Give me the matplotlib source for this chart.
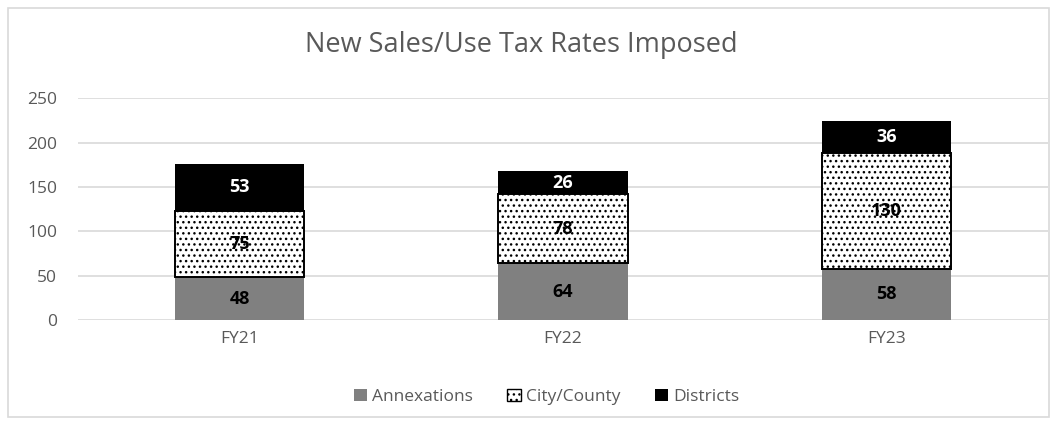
import numpy as np
import matplotlib
matplotlib.use("Agg")
import matplotlib.pyplot as plt
from matplotlib.patches import Rectangle

years = ["FY21", "FY22", "FY23"]
annexations = [48, 64, 58]
city_county = [75, 78, 130]
districts = [53, 26, 36]

GREY = "#808080"; TXT = "#595959"; GRID = "#d9d9d9"

plt.rcParams["font.family"] = ["Open Sans", "DejaVu Sans"]
plt.rcParams["hatch.linewidth"] = 1.0

fig = plt.figure(figsize=(10.57, 4.25), dpi=100)
ax = fig.add_axes([0.0738, 0.2471, 0.9177, 0.5216])

x = np.arange(len(years))
w = 0.4
a = np.array(annexations); c = np.array(city_county); d = np.array(districts)
ax.bar(x, a, w, color=GREY, label="Annexations", zorder=3)
ax.bar(x, c, w, bottom=a, facecolor="white", edgecolor="black", hatch="...",
       linewidth=1.4, label="City/County", zorder=3)
ax.bar(x, d, w, bottom=a + c, color="black", label="Districts", zorder=3)

LS = 13
for xi, v in zip(x, a):
    ax.text(xi, v / 2, str(v), ha="center", va="center", fontsize=LS,
            weight="bold", color="black", zorder=5)
for xi, v, b in zip(x, c, a):
    ax.text(xi, b + v / 2, str(v), ha="center", va="center", fontsize=LS,
            weight="bold", color="black", zorder=5)
for xi, v, b in zip(x, d, a + c):
    ax.text(xi, b + v / 2, str(v), ha="center", va="center", fontsize=LS,
            weight="bold", color="white", zorder=5)

ax.set_xlim(-0.5, 2.5)
ax.set_ylim(0, 250)
ax.set_yticks(range(0, 251, 50))
ax.yaxis.grid(True, color=GRID, linewidth=1.2, zorder=0)
ax.set_axisbelow(True)
for s in ax.spines.values():
    s.set_visible(False)
ax.tick_params(axis="both", length=0, labelsize=12.5, colors=TXT, pad=8)
ax.tick_params(axis="y", pad=15)
ax.set_xticks(x)
ax.set_xticklabels(years)

fig.text(0.493, 0.895, "New Sales/Use Tax Rates Imposed", ha="center", va="center",
         fontsize=19.5, color=TXT)

leg = fig.legend(loc="center", bbox_to_anchor=(0.517, 0.066), ncol=3, frameon=False,
                 fontsize=12.5, handlelength=0.75, handleheight=0.75, handletextpad=0.3,
                 columnspacing=2.0, labelcolor=TXT)
for h in leg.legend_handles:
    h.set_linewidth(1.0)

fig.patches.append(Rectangle((0.008, 0.019), 0.984, 0.962, transform=fig.transFigure,
                             fill=False, edgecolor=GRID, linewidth=1.2))

fig.savefig("out.png", dpi=100)
